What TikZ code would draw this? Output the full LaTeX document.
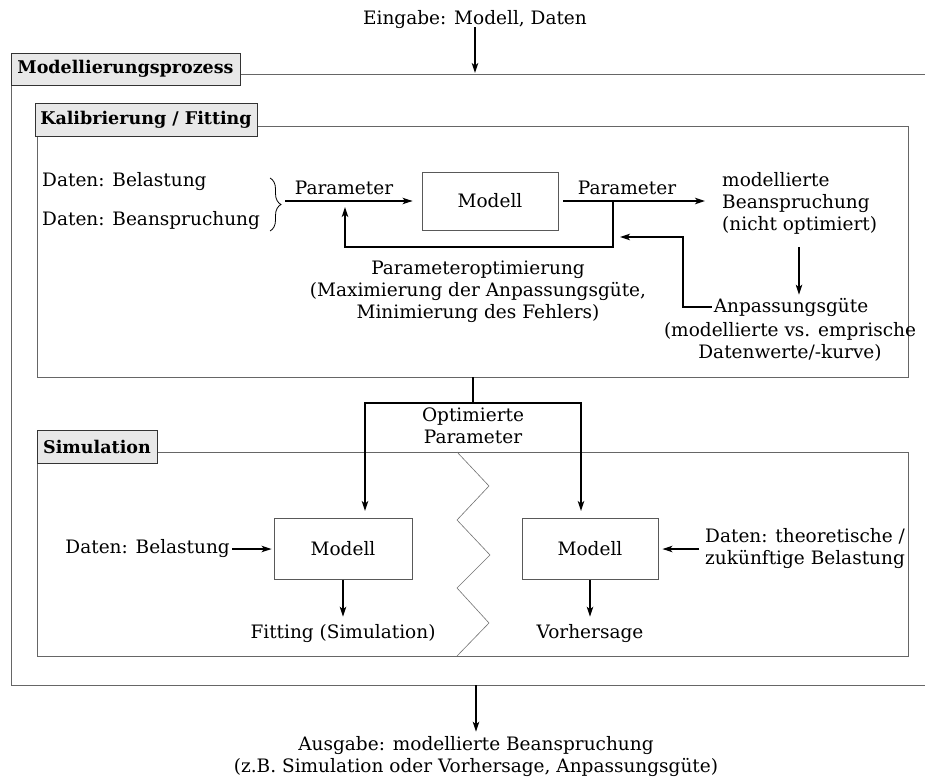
\documentclass[tikz,border=0pt]{standalone}
\usepackage{fontspec}
\setmainfont{DejaVu Serif}
\usetikzlibrary{arrows.meta,decorations.pathreplacing,calc}
\begin{document}
\begin{tikzpicture}[x=1pt,y=-1pt,
  txt/.style={font=\fontsize{18.5}{22}\selectfont, inner sep=0pt, align=center},
  ttl/.style={draw=black!80, fill=black!9, font=\fontsize{17.5}{21}\bfseries\selectfont, inner sep=0pt, line width=0.8pt},
  frame/.style={draw=black!60, line width=0.9pt},
  mbox/.style={draw=black!65, line width=0.9pt, inner sep=0pt, font=\fontsize{18.5}{22}\selectfont},
  tip/.tip={Stealth[length=10pt,width=6.5pt,inset=2.5pt]},
  arr/.style={-tip, line width=1.3pt},
  ln/.style={line width=1.3pt},
  zig/.style={draw=black!55, line width=0.6pt}
]
\useasboundingbox (0,0) rectangle (925,778);
\fill[white] (0,0) rectangle (925,778);

% top input
\node[txt] (ein) at (475,20) {Eingabe: Modell, Daten};
\coordinate (einT) at (475,73);
\draw[arr] ([yshift=2pt]ein.south) -- (einT);

% outer frame
\draw[frame] (240,74) -- (935,74);
\draw[frame] (11,85) -- (11,685) -- (935,685);
\node[ttl, minimum width=229pt, minimum height=32pt] (mp) at (125.5,69) {Modellierungsprozess};

% Kalibrierung frame
\draw[frame] (257,126) -- (908,126) -- (908,377) -- (37,377) -- (37,136);
\node[ttl, minimum width=222pt, minimum height=33pt] (kal) at (146,119.5) {Kalibrierung / Fitting};

% Simulation frame
\draw[frame] (157,452) -- (908,452) -- (908,656) -- (37,656) -- (37,463);
\node[ttl, minimum width=120pt, minimum height=33pt] (sim) at (97,446.5) {Simulation};

% Kalibrierung content
\node[txt, anchor=west] (d1) at (42,182) {Daten: Belastung};
\node[txt, anchor=west] (d2) at (42,221) {Daten: Beanspruchung};
\draw[decorate, decoration={brace, amplitude=11pt}, line width=0.8pt] (270,178) -- (270,231);
\coordinate (br) at (285,201);
\node[mbox, minimum width=136pt, minimum height=58pt] (m1) at (490,201) {Modell};
\node[txt] (p1) at (344,188) {Parameter};
\draw[arr, shorten >=9pt] (br) -- (m1.west);
\node[txt, anchor=west, align=left] (mb) at (722,203) {modellierte\\Beanspruchung\\(nicht optimiert)};
\node[txt] (p2) at (627,188) {Parameter};
\draw[arr, shorten <=5pt, shorten >=17pt] (m1.east) -- (mb.west |- m1.east);
\coordinate (fb1) at (613,201);
\draw[arr] (fb1) |- (345,247) -- (345,207);
\node[txt] (po) at (478,292) {Parameteroptimierung\\(Maximierung der Anpassungsgüte,\\Minimierung des Fehlers)};
\node[txt] (ag1) at (791,307) {Anpassungsgüte};
\node[txt] (ag2) at (790,342) {(modellierte vs. emprische\\Datenwerte/-kurve)};
\coordinate (mbd) at (799,247);
\draw[arr, shorten >=3pt] (mbd) -- (mbd |- ag1.north);
\draw[arr, shorten <=2pt] (ag1.west) -| (683,237) -- (620,237);

% optimierte Parameter
\coordinate (kb) at (473,377);
\coordinate (t2) at (365,511);
\coordinate (t3) at (581,511);
\draw[ln] (kb) -- (473,403);
\draw[arr] (473,403) -| (t2);
\draw[arr] (473,403) -| (t3);
\node[txt] (op) at (473,426) {Optimierte\\Parameter};

% Simulation content
\node[mbox, minimum width=138pt, minimum height=61pt] (m2) at (343,549) {Modell};
\node[mbox, minimum width=136pt, minimum height=61pt] (m3) at (590,549) {Modell};
\node[txt, anchor=east] (d3) at (230,549) {Daten: Belastung};
\draw[arr, shorten <=2pt, shorten >=2pt] (d3.east) -- (m2.west);
\node[txt, anchor=west, align=left] (d4) at (705,549) {Daten: theoretische /\\zukünftige Belastung};
\draw[arr, shorten <=6pt, shorten >=4pt] (d4.west) -- (m3.east);
\node[txt] (fit) at (343,634) {Fitting (Simulation)};
\node[txt] (vor) at (590,634) {Vorhersage};
\draw[arr, shorten >=8pt] (m2.south) -- (fit.north);
\draw[arr, shorten >=8pt] (m3.south) -- (vor.north);
\draw[zig] (457,452) -- (489,486) -- (457,520) -- (490,555) -- (457,588) -- (489,623) -- (457,656);

% output
\coordinate (ob) at (476,685);
\node[txt] (aus) at (476,757) {Ausgabe: modellierte Beanspruchung\\(z.B. Simulation oder Vorhersage, Anpassungsgüte)};
\draw[arr, shorten >=5pt] (ob) -- (aus.north);
\end{tikzpicture}
\end{document}
